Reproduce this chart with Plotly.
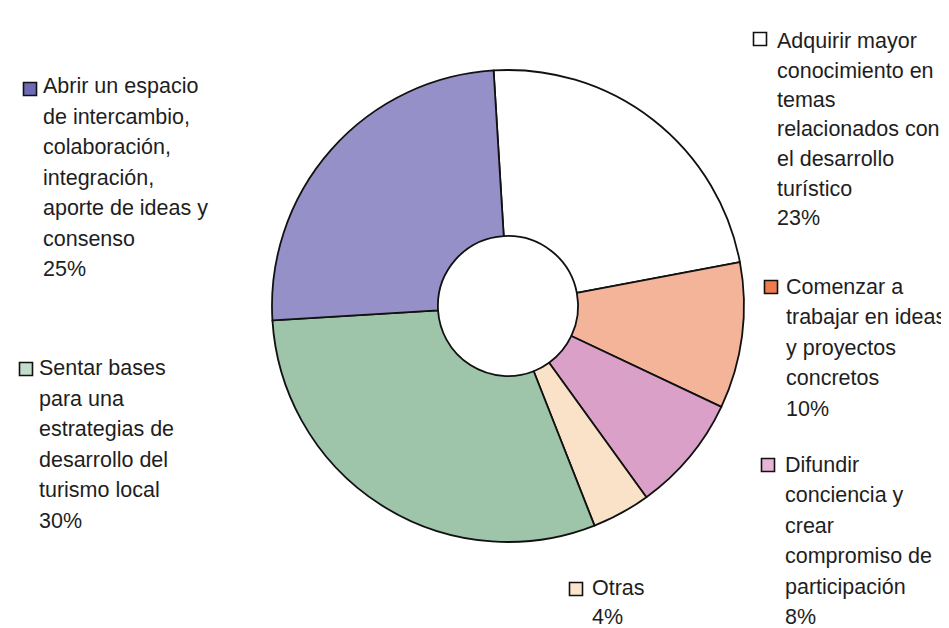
import plotly.graph_objects as go

# ---- data ----
categories = [
    "Adquirir mayor conocimiento en temas relacionados con el desarrollo turístico",
    "Comenzar a trabajar en ideas y proyectos concretos",
    "Difundir conciencia y crear compromiso de participación",
    "Otras",
    "Sentar bases para una estrategias de desarrollo del turismo local",
    "Abrir un espacio de intercambio, colaboración, integración, aporte de ideas y consenso",
]
values = [23, 10, 8, 4, 30, 25]
label_lines = [
    ["Adquirir mayor", "conocimiento en", "temas", "relacionados con", "el desarrollo", "turístico"],
    ["Comenzar a", "trabajar en ideas", "y proyectos", "concretos"],
    ["Difundir", "conciencia y", "crear", "compromiso de", "participación"],
    ["Otras"],
    ["Sentar bases", "para una", "estrategias de", "desarrollo del", "turismo local"],
    ["Abrir un espacio", "de intercambio,", "colaboración,", "integración,", "aporte de ideas y", "consenso"],
]
colors = ["#FFFFFF", "#F3B49A", "#DAA0C8", "#FAE2C8", "#9EC4AA", "#9690C8"]
swatch_colors = ["#FFFFFF", "#EE7D4E", "#E7B3D6", "#FBE5CC", "#C4DCCB", "#6E6AB6"]

# ---- layout geometry (pixels in the reference; page body has an 8px margin) ----
OFF = 8
W, H = 949 - OFF, 628 - OFF
cx, cy, R = 508 - OFF, 306 - OFF, 236
# (text_x, first_line_y, line_step, square_cx, square_cy)
label_pos = [
    (775, 41, 29.5, 760, 39),
    (784, 287, 30.4, 771, 287),
    (783, 465, 30.4, 768, 465),
    (590, 588, 29.0, 576, 589),
    (37, 368, 30.6, 26, 369),
    (41, 86, 30.5, 30, 89),
]

fig = go.Figure()
fig.add_trace(go.Pie(
    labels=categories,
    values=values,
    sort=False,
    direction="clockwise",
    rotation=-3.5,
    hole=0.297,
    marker=dict(colors=colors, line=dict(color="#111111", width=1.8)),
    textinfo="none",
    hoverinfo="label+percent",
    showlegend=False,
    domain=dict(x=[(cx - R) / W, (cx + R) / W], y=[(H - cy - R) / H, (H - cy + R) / H]),
))

total = sum(values)
annotations = []
shapes = []
font = dict(family="Liberation Sans, Arial, sans-serif", size=21.5, color="#1e1e1e")
for lines, v, (tx, ty, step, sx, sy), sc in zip(label_lines, values, label_pos, swatch_colors):
    all_lines = lines + [f"{round(100 * v / total)}%"]
    tx, ty, sx, sy = tx - OFF, ty - OFF, sx - OFF, sy - OFF
    for i, ln in enumerate(all_lines):
        annotations.append(dict(
            x=tx / W, y=1 - (ty + i * step) / H, xref="paper", yref="paper",
            text=ln, showarrow=False, xanchor="left", yanchor="middle", font=font,
        ))
    s = 6.5
    shapes.append(dict(
        type="rect", xref="paper", yref="paper",
        x0=(sx - s) / W, x1=(sx + s) / W, y0=1 - (sy + s) / H, y1=1 - (sy - s) / H,
        fillcolor=sc, line=dict(color="#111111", width=1.6),
    ))

fig.update_layout(
    width=W, height=H,
    margin=dict(l=0, r=0, t=0, b=0),
    paper_bgcolor="white", plot_bgcolor="white",
    annotations=annotations, shapes=shapes,
)

fig.write_html("out.html")
